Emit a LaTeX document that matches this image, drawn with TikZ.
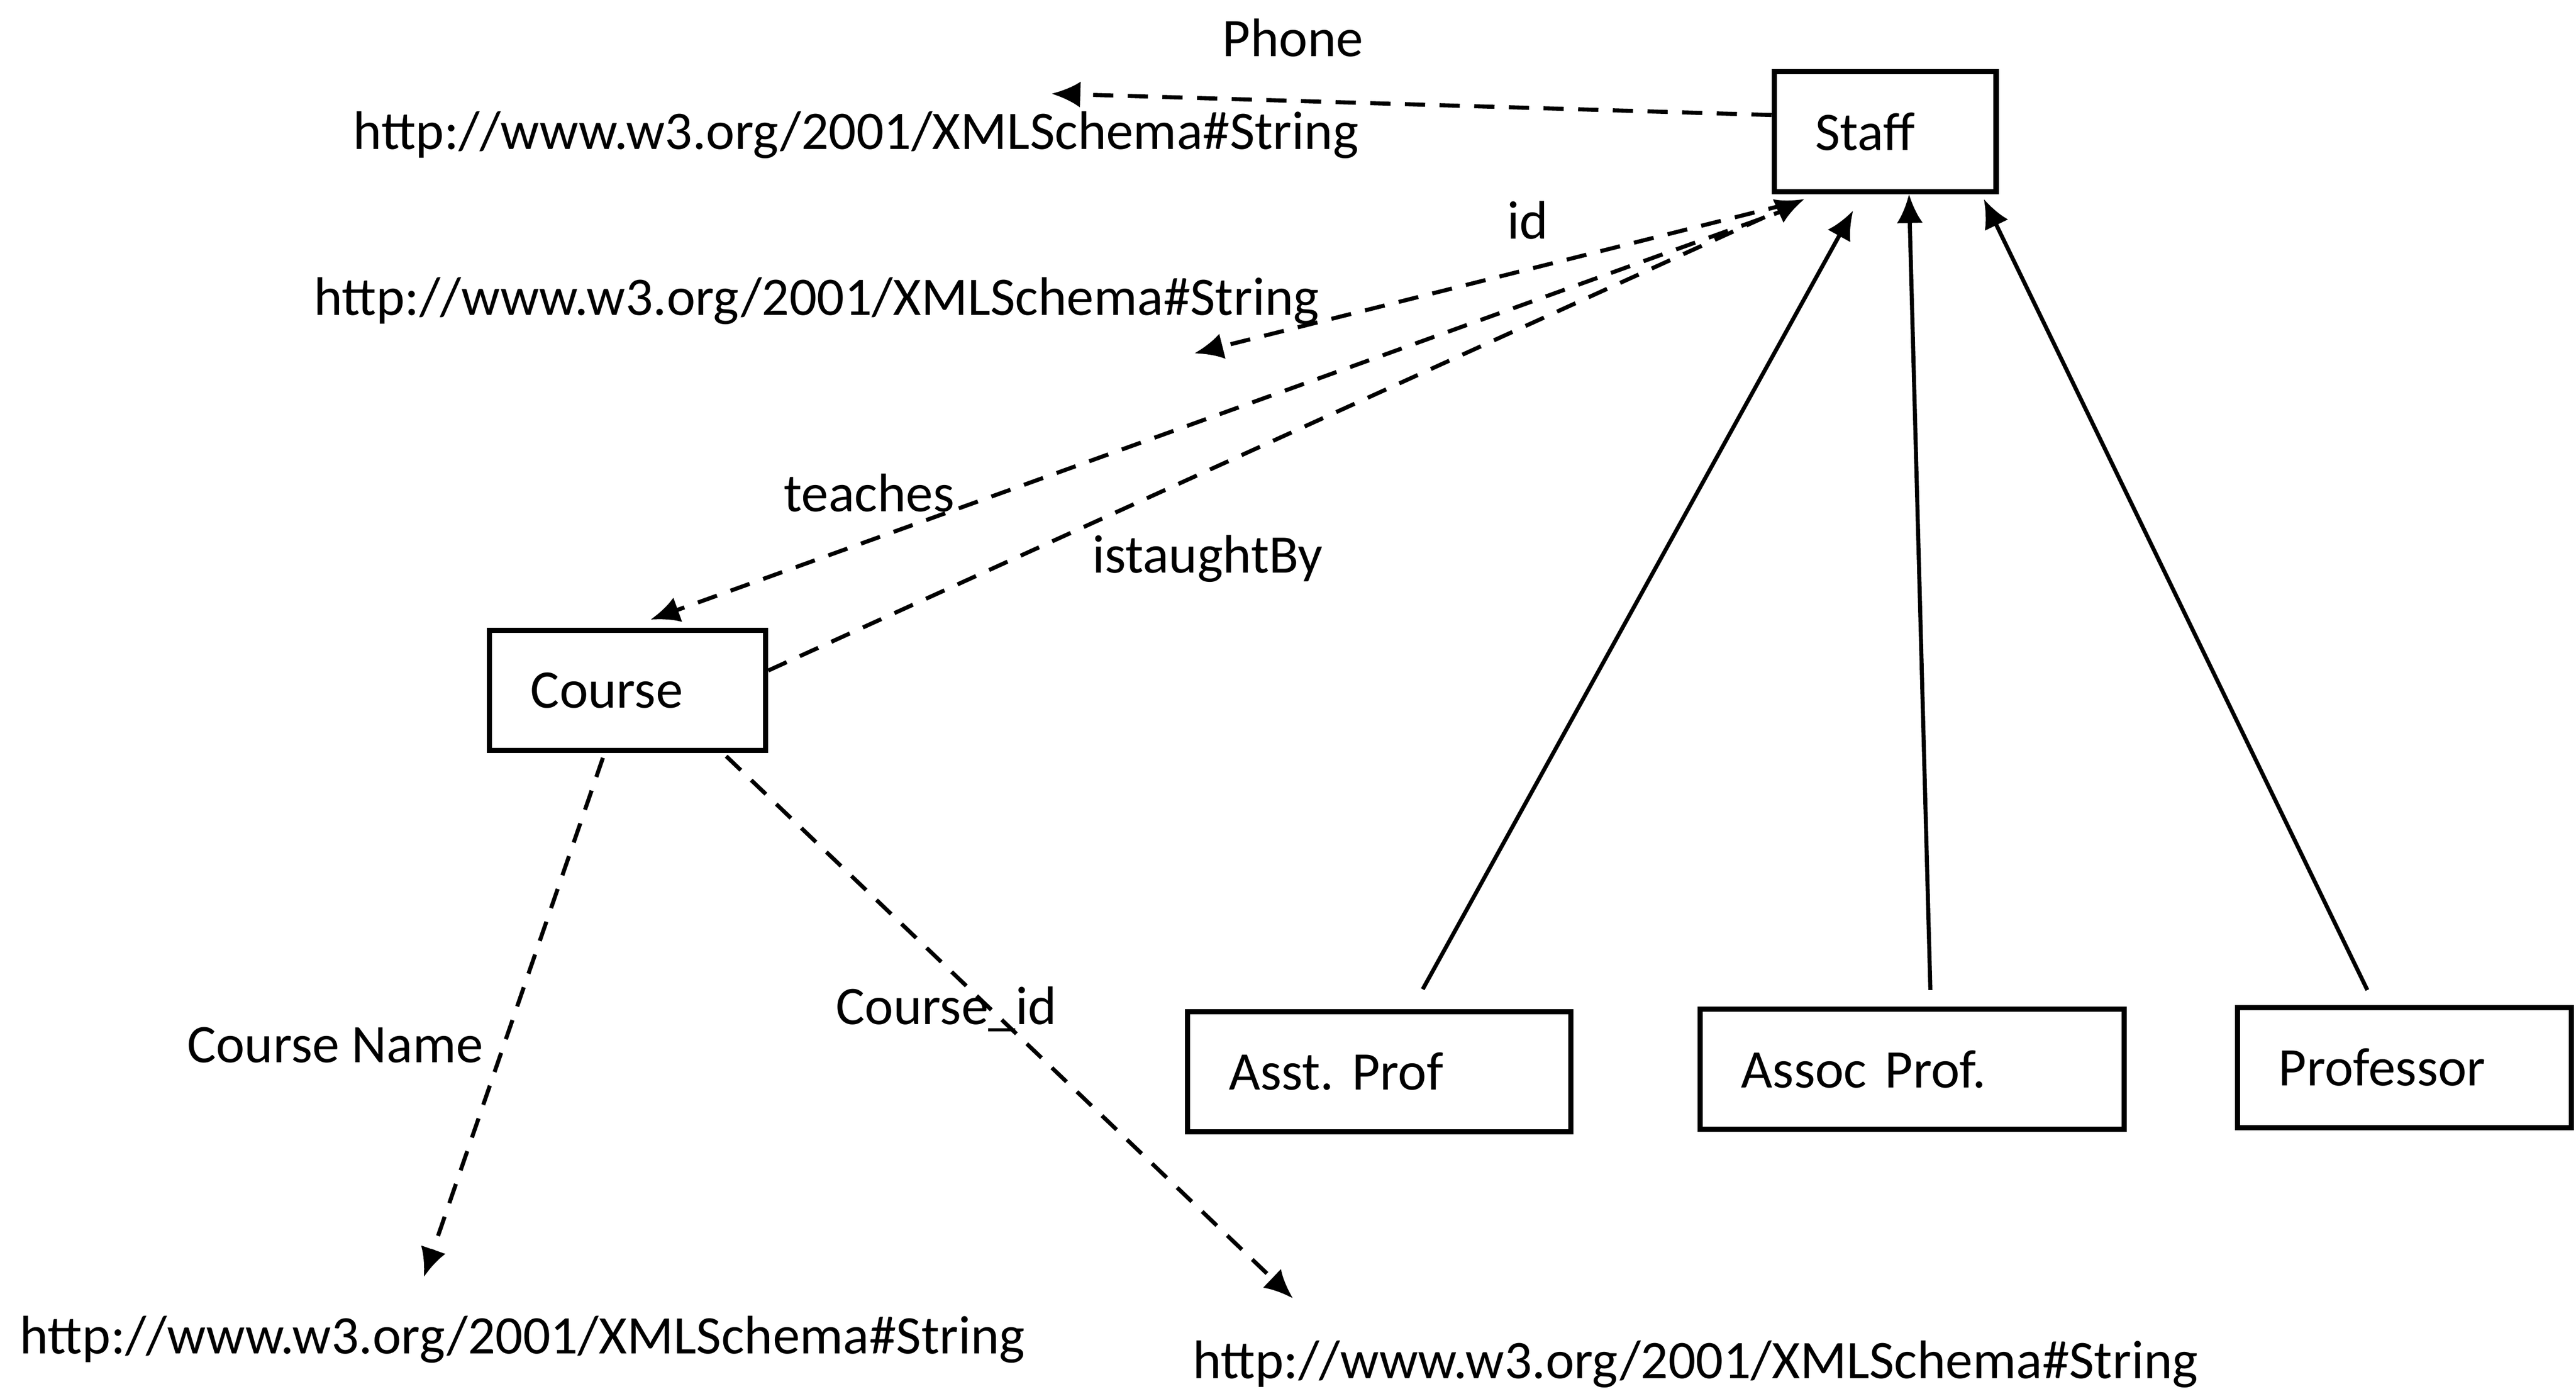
\documentclass[tikz,border=0pt]{standalone}
\usepackage{fontspec}
\setmainfont{Carlito}
\usetikzlibrary{arrows.meta}
\frenchspacing

\begin{document}
\begin{tikzpicture}[x=0.01cm, y=-0.01cm,
    font=\fontsize{9.4}{11}\selectfont,
    box/.style={draw, line width=0.9pt, minimum height=0.73cm, inner xsep=0.25cm, align=left},
    rel/.style={dashed, dash pattern=on 3.5pt off 2.5pt, line width=0.7pt, -{Latex[length=5pt,width=4.5pt]}},
    isa/.style={line width=0.7pt, -{Latex[length=5pt,width=4.5pt]}}]
        % Frame
        \useasboundingbox (0,0) rectangle (1568,845);

        % Classes
        \node[box, text width=0.85cm] (staff) at (1147.5,80) {Staff};
        \node[box, text width=1.18cm] (course) at (382,420) {Course};
        \node[box, text width=1.83cm] (asst) at (839.5,652) {Asst. Prof};
        \node[box, text width=2.08cm] (assoc) at (1164,650.5) {Assoc Prof.};
        \node[box, text width=1.53cm] (prof) at (1463.5,649.5) {Professor};

        % Datatype ranges
        \node (str1) at (521,82) {http://www.w3.org/2001/XMLSchema\#String};
        \node (str2) at (497,183) {http://www.w3.org/2001/XMLSchema\#String};
        \node (str3) at (318,815) {http://www.w3.org/2001/XMLSchema\#String};
        \node (str4) at (1032,830) {http://www.w3.org/2001/XMLSchema\#String};

        % Arrow ends
        \coordinate (phoneEnd) at (640,57);
        \coordinate (idEnd) at (727,215);
        \coordinate (teachEnd) at (396,377);
        \coordinate (nameEnd) at (258,777);
        \coordinate (cidEnd) at (787,790);

        % Properties of Staff
        \draw[rel] ([yshift=0.1cm]staff.west) -- (phoneEnd);
        \draw[rel] ([xshift=0.1cm,yshift=-0.06cm]staff.south west) -- (idEnd);
        \draw[rel] ([xshift=0.13cm,yshift=-0.08cm]staff.south west) -- (teachEnd);
        \draw[rel] ([yshift=0.12cm]course.east) -- ([xshift=0.2cm,yshift=-0.03cm]staff.south west);

        % Properties of Course
        \draw[rel] ([xshift=-0.15cm,yshift=-0.03cm]course.south) -- (nameEnd);
        \draw[rel] ([xshift=0.6cm,yshift=-0.02cm]course.south) -- (cidEnd);

        % Subclasses of Staff
        \draw[isa] ([xshift=0.265cm,yshift=0.12cm]asst.north) -- ([xshift=-0.195cm,yshift=-0.1cm]staff.south);
        \draw[isa] ([xshift=0.11cm,yshift=0.1cm]assoc.north) -- ([xshift=0.145cm]staff.south);
        \draw[isa] ([xshift=-0.225cm,yshift=0.09cm]prof.north) -- ([xshift=0.6cm,yshift=-0.03cm]staff.south);

        % Labels
        \node (phoneLbl) at (787,23) {Phone};
        \node (idLbl) at (930,134) {id};
        \node (teachLbl) at (529,300) {teaches};
        \node (taughtLbl) at (735,340) {istaughtBy};
        \node (nameLbl) at (204,636) {Course Name};
        \node (cidLbl) at (576,614) {Course\_id};
      \end{tikzpicture}
\end{document}
